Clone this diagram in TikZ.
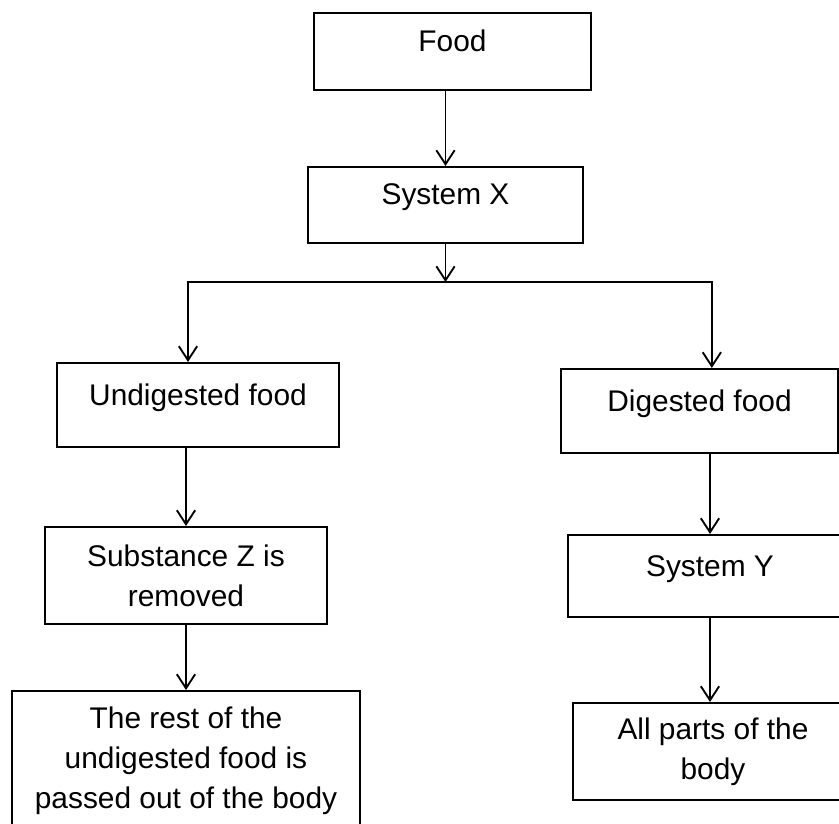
\documentclass[tikz,border=0pt]{standalone}
\usepackage{fontspec}
\setmainfont{Liberation Sans}
\usepackage{tikz}
\usetikzlibrary{arrows.meta}

\begin{document}
\begin{tikzpicture}[x=0.03cm,y=-0.03cm,
    caja/.style={draw,line width=1.8pt,align=center,inner sep=2pt,font=\fontsize{25.5}{34}\selectfont},
    unalinea/.style={text height=18pt,text depth=18pt},
    flecha/.style={-{Straight Barb[length=0.42cm,width=0.55cm]},line width=1.6pt}]
      \useasboundingbox (0,0) rectangle (839,824);
      \clip (0,0) rectangle (839,824);
      \node[caja,unalinea,minimum width=8.31cm,minimum height=2.31cm] (food) at (452.5,51.5) {Food};
      \node[caja,unalinea,minimum width=8.25cm,minimum height=2.28cm] (sysx) at (445.5,205) {System X};
      \node[caja,unalinea,minimum width=8.46cm,minimum height=2.52cm] (undig) at (198,405) {Undigested food};
      \node[caja,unalinea,minimum width=8.31cm,minimum height=2.52cm] (dig) at (699.5,411) {Digested food};
      \node[caja,minimum width=8.46cm,minimum height=2.91cm] (subz) at (186,575.5) {Substance Z is\\removed};
      \node[caja,unalinea,minimum width=8.52cm,minimum height=2.46cm] (sysy) at (710,576) {System Y};
      \node[caja,minimum width=10.44cm,minimum height=4.2cm] (rest) at (186,761)
        {The rest of the\\undigested food is\\passed out of the body};
      \node[caja,minimum width=8.4cm,minimum height=2.91cm] (allp) at (713,751.5) {All parts of the\\body};
      \coordinate (split) at (445.5,282);
      \draw[flecha] (food.south -| sysx.north) -- (sysx.north);
      \draw[flecha] (sysx.south) -- (split);
      \draw[flecha] (split) -| ([xshift=-0.3cm]undig.north);
      \draw[flecha] (split) -| ([xshift=0.37cm]dig.north);
      \draw[flecha] (undig.south -| subz.north) -- (subz.north);
      \draw[flecha] (subz.south) -- (rest.north);
      \draw[flecha] (dig.south -| sysy.north) -- (sysy.north);
      \draw[flecha] (sysy.south) -- (sysy.south |- allp.north);
    \end{tikzpicture}
\end{document}
